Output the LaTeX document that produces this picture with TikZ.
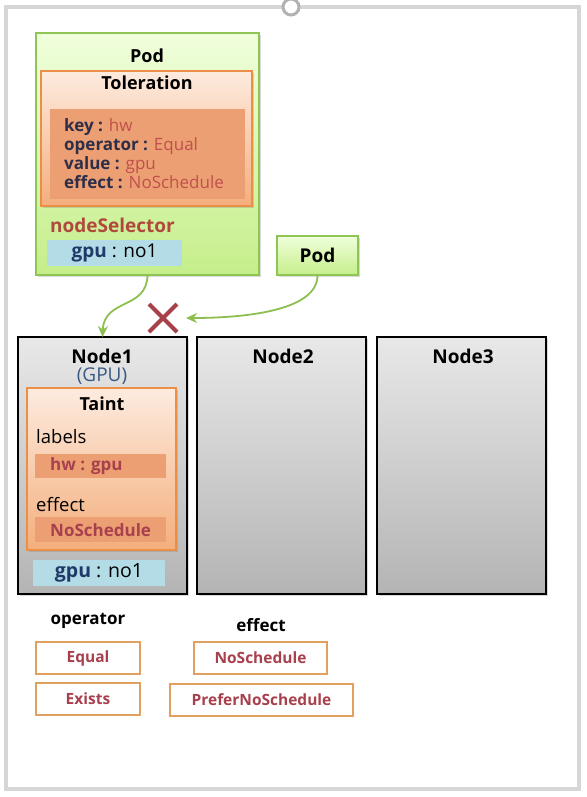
\documentclass[tikz,border=0pt]{standalone}
\usepackage{fontspec}
\setmainfont{Open Sans}
\usetikzlibrary{arrows.meta,shadows,shapes.misc}
\definecolor{podline}{HTML}{8FC555}
\definecolor{podtop}{HTML}{F0FFDC}
\definecolor{podbot}{HTML}{C5EE8A}
\definecolor{tolline}{HTML}{EA8F45}
\definecolor{toltop}{HTML}{FDEBDF}
\definecolor{tolbot}{HTML}{F4AE7C}
\definecolor{keyfill}{HTML}{EC9F72}
\definecolor{selfill}{HTML}{B4DCE6}
\definecolor{keytext}{HTML}{2E2E48}
\definecolor{valtext}{HTML}{C0504D}
\definecolor{redtext}{HTML}{A8404E}
\definecolor{seltext}{HTML}{B0483E}
\definecolor{navytext}{HTML}{1F3A68}
\definecolor{gputext}{HTML}{3A5A85}
\definecolor{framecol}{HTML}{D6D6D6}
\definecolor{crosscol}{HTML}{A8404A}
\definecolor{arrowcol}{HTML}{8DBF50}
\definecolor{boxline}{HTML}{E0A060}
\definecolor{nodetop}{HTML}{E8E8E8}
\definecolor{nodebot}{HTML}{B4B4B4}
\tikzset{
  box/.style={rectangle,inner sep=0,outer sep=0,anchor=north west},
  softshadow/.style={drop shadow={opacity=0.3,shadow xshift=2pt,shadow yshift=-2pt}},
  podbox/.style={box,draw=podline,line width=1.5pt,top color=podtop,bottom color=podbot,softshadow},
  tolbox/.style={box,draw=tolline,line width=1.5pt,top color=toltop,bottom color=tolbot,softshadow},
  keybox/.style={box,fill=keyfill},
  selbox/.style={box,fill=selfill},
  nodebox/.style={box,draw=black,line width=1.5pt,top color=nodetop,bottom color=nodebot,softshadow},
  valbox/.style={box,draw=boxline,line width=1.5pt,fill=white},
  title/.style={inner sep=0,font=\bfseries\fontsize{18}{20}\selectfont},
  body/.style={inner sep=0,font=\fontsize{17}{19}\selectfont},
  tag/.style={inner sep=0,text=redtext,font=\bfseries\fontsize{15.5}{18}\selectfont},
  link/.style={arrowcol,line width=1.8pt,-{Stealth[length=11pt,width=10pt]}}
}
\begin{document}
\begin{tikzpicture}[x=1pt,y=-1pt]
\useasboundingbox (0,0) rectangle (586,797);
\draw[framecol,line width=4pt] (6,7) rectangle (579,789);
\draw[gray!60,line width=3pt,fill=white] (291,7) circle[radius=8];
\node[podbox,minimum width=223,minimum height=242] (podbig) at (36,33) {};
\node[title] (podtitle) at (147,56) {Pod};
\node[tolbox,minimum width=211,minimum height=135] (tol) at (41,71) {};
\node[title] (toltitle) at (147,83) {Toleration};
\node[keybox,minimum width=195,minimum height=90] (tolkeys) at (50,109) {};
\node[body,anchor=west,align=left] (tollines) at (64,154) {\textbf{\color{keytext}key :} \color{valtext}hw\\\textbf{\color{keytext}operator :} \color{valtext}Equal\\\textbf{\color{keytext}value :} \color{valtext}gpu\\\textbf{\color{keytext}effect :} \color{valtext}NoSchedule};
\node[title,anchor=west,text=seltext,font=\bfseries\fontsize{19}{21}\selectfont] (seltitle) at (50,225) {nodeSelector};
\node[selbox,minimum width=135,minimum height=26] (sel) at (47,240) {};
\node[body,font=\fontsize{19}{21}\selectfont] (seltag) at (sel.center) {\textbf{\color{navytext}gpu} : no1};
\node[podbox,minimum width=81,minimum height=39] (podsmall) at (277,236) {};
\node[title,font=\bfseries\fontsize{19}{21}\selectfont] (podsmalltitle) at (podsmall.center) {Pod};
\node[nodebox,minimum width=169,minimum height=257] (node1) at (18,337) {};
\node[nodebox,minimum width=169,minimum height=257] (node2) at (197,337) {};
\node[nodebox,minimum width=169,minimum height=257] (node3) at (377,337) {};
\node[title,font=\bfseries\fontsize{19}{21}\selectfont] (node1title) at (102,356) {Node1};
\node[body,text=gputext,font=\fontsize{19}{21}\selectfont] (node1gpu) at (102,376) {(GPU)};
\node[title,font=\bfseries\fontsize{19}{21}\selectfont] (node2title) at (283,356) {Node2};
\node[title,font=\bfseries\fontsize{19}{21}\selectfont] (node3title) at (463,356) {Node3};
\node[tolbox,minimum width=149,minimum height=162] (taint) at (27,388) {};
\node[title] (tainttitle) at (102,404) {Taint};
\node[body,anchor=west,font=\fontsize{18.5}{21}\selectfont] (labelstext) at (36,437) {labels};
\node[keybox,minimum width=131,minimum height=24] (taintkey) at (35,454) {};
\node[tag,anchor=west,font=\bfseries\fontsize{17}{19}\selectfont] (taintkeytext) at (50,466) {hw : gpu};
\node[body,anchor=west,font=\fontsize{18.5}{21}\selectfont] (effecttext) at (36,505) {effect};
\node[keybox,minimum width=131,minimum height=25] (tainteff) at (35,517) {};
\node[tag,anchor=west,font=\bfseries\fontsize{17}{19}\selectfont] (tainteffttext) at (50,530) {NoSchedule};
\node[selbox,minimum width=132,minimum height=26] (node1sel) at (33,560) {};
\node[body,font=\fontsize{19.5}{21}\selectfont] (node1seltext) at (node1sel.center) {\textbf{\color{navytext}gpu} : no1};
\node[cross out,draw=crosscol,line width=4pt,minimum size=28pt,inner sep=0,outer sep=0] (cross) at (163,318) {};
\draw[link] (podbig.south) .. controls (147,310) and (104,298) .. (node1.north);
\draw[link] (podsmall.south) .. controls (318,312) and (240,318) .. ([xshift=9pt]cross.east);
\node[title,font=\bfseries\fontsize{17}{19}\selectfont] (optitle) at (88,621) {operator};
\node[valbox,minimum width=104,minimum height=32] (opequal) at (36,642) {};
\node[tag] (opequaltext) at (opequal.center) {Equal};
\node[valbox,minimum width=104,minimum height=32] (opexists) at (36,683) {};
\node[tag] (opexiststext) at (opexists.center) {Exists};
\node[title,font=\bfseries\fontsize{17}{19}\selectfont] (eftitle) at (261,625) {effect};
\node[valbox,minimum width=133,minimum height=32] (efno) at (194,642) {};
\node[tag] (efnotext) at (efno.center) {NoSchedule};
\node[valbox,minimum width=183,minimum height=32] (efprefer) at (170,684) {};
\node[tag] (efprefertext) at (efprefer.center) {PreferNoSchedule};
\end{tikzpicture}
\end{document}
